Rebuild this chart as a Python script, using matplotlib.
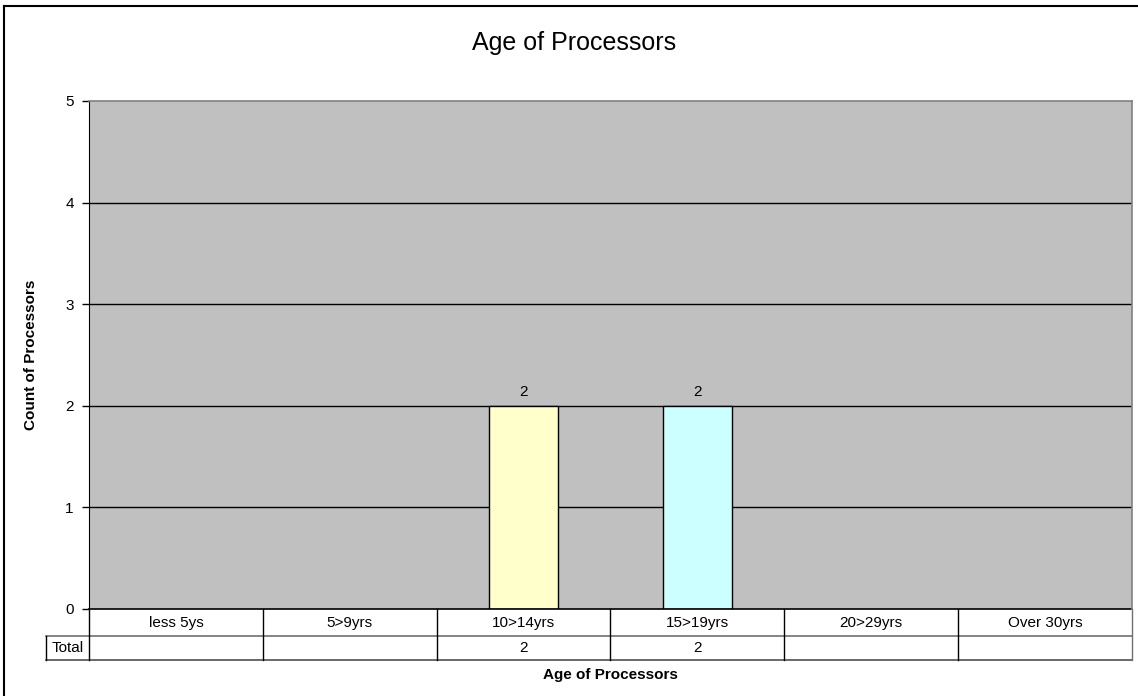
import matplotlib
matplotlib.use("Agg")
import matplotlib.pyplot as plt
from matplotlib.lines import Line2D
import matplotlib.transforms as mtransforms

plt.rcParams["font.family"] = ["Liberation Sans", "DejaVu Sans"]

title = "Age of Processors"
categories = ["less 5ys", "5>9yrs", "10>14yrs", "15>19yrs", "20>29yrs", "Over 30yrs"]
counts = [None, None, 2, 2, None, None]
bar_colors = ["#9999FF", "#993366", "#FFFFCC", "#CCFFFF", "#660066", "#FF8080"]
row_label = "Total"
x_label = "Age of Processors"
y_label = "Count of Processors"
y_ticks = [0, 1, 2, 3, 4, 5]

W, H = 1138, 696
fig = plt.figure(figsize=(W / 100, H / 100), dpi=100)
fig.patch.set_facecolor("white")

# plot area in pixel coordinates
left, right, top, bottom = 89, 1132, 101, 609
ax = fig.add_axes([left / W, 1 - bottom / H, (right - left) / W, (bottom - top) / H])
ax.set_facecolor("#C0C0C0")
n = len(categories)
ax.set_xlim(-0.5, n - 0.5)
ax.set_ylim(0, 5)

for v in y_ticks[1:-1]:
    ax.axhline(v, color="black", lw=1, zorder=1)

xs = list(range(n))
for x, c, col in zip(xs, counts, bar_colors):
    if c is None:
        continue
    ax.bar(x, c, width=0.4, color=col, edgecolor="black", linewidth=1, zorder=2)
    ax.annotate(str(c), (x, c), xytext=(0, 5), textcoords="offset points",
                ha="center", va="bottom", fontsize=11)

ax.set_yticks(y_ticks)
ax.set_yticklabels([str(t) for t in y_ticks], fontsize=11)
ax.tick_params(axis="y", direction="out", length=5, width=1, pad=6, colors="black")
ax.set_xticks([])
for s in ["top", "right"]:
    ax.spines[s].set_color("#808080")
    ax.spines[s].set_linewidth(1.2)
ax.spines["left"].set_color("black")
ax.spines["bottom"].set_visible(False)

# data table below the plot area
ph = bottom - top
r1 = -27 / ph
r2 = -51 / ph
lab_left = -0.5 - (left - 46) / ((right - left) / n)
tr = mtransforms.blended_transform_factory(ax.transData, ax.transAxes)

def hline(x0, x1, y, color):
    ax.add_line(Line2D([x0, x1], [y, y], transform=tr, color=color, lw=1.2, clip_on=False))

def vline(x, y0, y1, color="black"):
    ax.add_line(Line2D([x, x], [y0, y1], transform=tr, color=color, lw=1, clip_on=False))

hline(-0.5, n - 0.5, 0, "black")
hline(lab_left, n - 0.5, r1, "#707070")
hline(lab_left, n - 0.5, r2, "#505050")
for i in range(n + 1):
    vline(i - 0.5, 0, r2, "black" if i < n else "#707070")
vline(lab_left, r1, r2)

for x, cat, c in zip(xs, categories, counts):
    ax.text(x, r1 / 2, cat, transform=tr, ha="center", va="center", fontsize=11)
    if c is not None:
        ax.text(x, (r1 + r2) / 2, str(c), transform=tr, ha="center", va="center", fontsize=11)
ax.text((lab_left - 0.5) / 2, (r1 + r2) / 2, row_label, transform=tr,
        ha="center", va="center", fontsize=11)

fig.text(574 / W, 1 - 43 / H, title, ha="center", va="center", fontsize=18)
fig.text(610 / W, 1 - 675 / H, x_label, ha="center", va="center", fontsize=11, fontweight="bold")
fig.text(31 / W, 1 - 355 / H, y_label, ha="center", va="center", rotation=90,
         fontsize=11, fontweight="bold")

# chart frame
fig.add_artist(Line2D([4 / W, 4 / W], [0, 1 - 6 / H], transform=fig.transFigure,
                      color="black", lw=1.5))
fig.add_artist(Line2D([4 / W, 1], [1 - 6 / H, 1 - 6 / H], transform=fig.transFigure,
                      color="black", lw=1.5))

fig.savefig("out.png", dpi=100, facecolor="white")
